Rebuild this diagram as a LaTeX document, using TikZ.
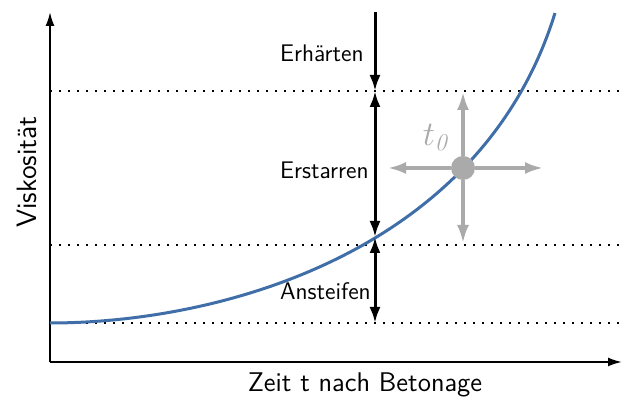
\documentclass[tikz,border=0pt]{standalone}
\usepackage{tikz}
\usetikzlibrary{arrows.meta,positioning}
\definecolor{curveblue}{RGB}{64,110,168}
\definecolor{shiftgray}{RGB}{170,170,170}

\begin{document}
\begin{tikzpicture}[x=0.5pt,y=-0.5pt,font=\sffamily\large,
  level/.style={line width=1.2pt,dash pattern=on 1.2pt off 3.3pt},
  phase/.style={line width=1.5pt},
  shiftarrow/.style={shiftgray,line width=1.6pt,-{Latex[length=9pt,width=6pt]}}]
  \useasboundingbox (0,0) rectangle (622,399);

  % Axes
  \coordinate (origin) at (50,362);
  \coordinate (ytop) at (50,12);
  \coordinate (xend) at (622,362);
  \draw[line width=1pt,-{Latex[length=7pt,width=4.5pt]}] (origin) -- (ytop);
  \draw[line width=1pt,-{Latex[length=7pt,width=4.5pt]}] (origin) -- (xend);
  \node[rotate=90,font=\sffamily\fontsize{14}{16}\selectfont] (ylab) at (27,172) {Viskosität};
  \node[font=\sffamily\fontsize{13.5}{16}\selectfont] (xlab) at (365,385) {Zeit t nach Betonage};

  % Dotted levels
  \foreach \y in {91,245,323} {
    \draw[level] (50,\y) -- (622,\y);
  }

  % Viscosity curve
  \draw[curveblue,line width=1.5pt] (50,323) .. controls (225,323) and (482,250) .. (555,13);

  % Phases
  \coordinate (p0) at (375,12);
  \coordinate (p1) at (375,91);
  \coordinate (p2) at (375,237);
  \coordinate (p3) at (375,323);
  \draw[phase,-{Latex[length=8pt,width=5.5pt]}] (p0) -- (p1);
  \draw[phase,{Latex[length=8pt,width=5.5pt]}-{Latex[length=8pt,width=5.5pt]}] (p1) -- (p2);
  \draw[phase,{Latex[length=8pt,width=5.5pt]}-{Latex[length=8pt,width=5.5pt]}] (p2) -- (p3);
  \node[anchor=west] (hard) at (273,53) {Erhärten};
  \node[anchor=west] (set) at (273,170) {Erstarren};
  \node[anchor=west] (stiff) at (273,291) {Ansteifen};

  % Shift of t0
  \node[circle,fill=shiftgray,minimum size=12pt,inner sep=0pt] (t0dot) at (463,168) {};
  \coordinate (up) at (463,92);
  \coordinate (down) at (463,243);
  \coordinate (left) at (388,168);
  \coordinate (right) at (543,168);
  \foreach \dir in {up,down,left,right} {
    \draw[shiftarrow] (t0dot) -- (\dir);
  }
  \node[shiftgray,font=\LARGE] (t0lab) at (437,137) {$t_{\mathit{0}}$};
\end{tikzpicture}
\end{document}
